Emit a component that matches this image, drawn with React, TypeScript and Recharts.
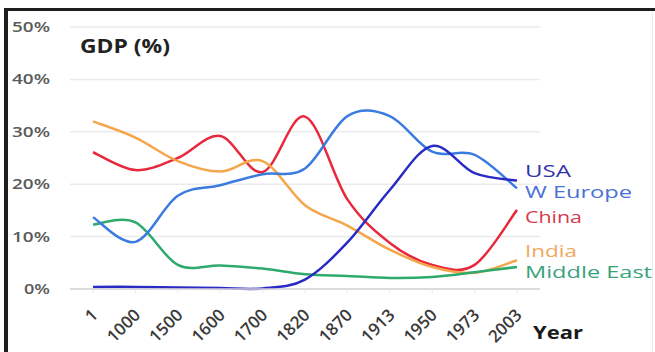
import React from 'react';
import { LineChart, Line, XAxis, YAxis, CartesianGrid, LabelList } from 'recharts';

const years = ['1', '1000', '1500', '1600', '1700', '1820', '1870', '1913', '1950', '1973', '2003'];
const usa = [0.4, 0.4, 0.3, 0.2, 0.1, 1.8, 8.9, 18.9, 27.3, 22.1, 20.7];
const wEurope = [13.7, 9.0, 17.8, 19.8, 21.9, 23.0, 33.0, 33.0, 26.2, 25.6, 19.2];
const china = [26.1, 22.7, 25.0, 29.2, 22.3, 32.9, 17.1, 8.8, 4.6, 4.6, 15.1];
const india = [32.0, 28.9, 24.4, 22.4, 24.4, 16.0, 12.1, 7.5, 4.2, 3.1, 5.5];
const middleEast = [12.3, 12.7, 4.6, 4.5, 3.9, 2.8, 2.5, 2.1, 2.3, 3.2, 4.2];
const yTicks = [0, 10, 20, 30, 40, 50];

const series = [
  { key: 'china', name: 'China', values: china, color: '#e8283c', labelColor: '#d63a4c', dy: 13, width: 57 },
  { key: 'india', name: 'India', values: india, color: '#f5a54a', labelColor: '#f0a860', dy: -3, width: 52 },
  { key: 'middleEast', name: 'Middle East', values: middleEast, color: '#2eaa6c', labelColor: '#3aa27a', dy: 11, width: 127 },
  { key: 'wEurope', name: 'W Europe', values: wEurope, color: '#3b7be0', labelColor: '#4a72d4', dy: 10, width: 107 },
  { key: 'usa', name: 'USA', values: usa, color: '#2a2ac4', labelColor: '#3434aa', dy: -4, width: 46 },
];

const data = years.map((y, i) => {
  const row: any = { year: y };
  series.forEach((s) => { row[s.key] = s.values[i]; });
  return row;
});

// Catmull-Rom style smooth curve (Excel-like smoothing)
const smoothCurve: any = (ctx: any) => {
  let pts: number[][] = [];
  return {
    areaStart() {},
    areaEnd() {},
    lineStart() { pts = []; },
    lineEnd() {
      if (!pts.length) return;
      ctx.moveTo(pts[0][0], pts[0][1]);
      for (let i = 0; i < pts.length - 1; i++) {
        const p0 = pts[i - 1] || pts[i];
        const p1 = pts[i];
        const p2 = pts[i + 1];
        const p3 = pts[i + 2] || p2;
        ctx.bezierCurveTo(
          p1[0] + (p2[0] - p0[0]) / 6, p1[1] + (p2[1] - p0[1]) / 6,
          p2[0] - (p3[0] - p1[0]) / 6, p2[1] - (p3[1] - p1[1]) / 6,
          p2[0], p2[1]
        );
      }
    },
    point(x: number, y: number) { pts.push([+x, +y]); },
  };
};

const FONT = '"Open Sans", sans-serif';

const YTick = (props: any) => {
  const { y, payload } = props;
  const label = `${payload.value}%`;
  return (
    <text x={50} y={y + 5} textAnchor="end" fontFamily={FONT} fontSize={15} fontWeight={600} fill="#5a5a5a"
      textLength={label.length === 2 ? 26 : 38} lengthAdjust="spacingAndGlyphs">
      {label}
    </text>
  );
};

const XTick = (props: any) => {
  const { x, y, payload } = props;
  const tx = x + 6;
  const ty = y + 21;
  return (
    <text x={tx} y={ty} textAnchor="end" fontFamily={FONT} fontSize={17} fontWeight={600} fill="#3a3a3a"
      transform={`rotate(-45, ${tx}, ${ty})`}>
      {payload.value}
    </text>
  );
};

const makeEndLabel = (s: any) => (props: any) => {
  const { x, y, index } = props;
  if (index !== years.length - 1) return null;
  return (
    <text x={x + 8} y={y + s.dy} fontFamily={FONT} fontSize={16} fill={s.labelColor}
      textLength={s.width} lengthAdjust="spacingAndGlyphs">
      {s.name}
    </text>
  );
};

export default function App() {
  return (
    <div style={{ position: 'absolute', left: 0, top: 0, width: 655, height: 352, background: '#fff' }}>
      <LineChart width={655} height={352} data={data} margin={{ top: 27, right: 115, left: 0, bottom: 0 }}>
        <CartesianGrid vertical={false} stroke="#ebebeb" strokeWidth={1.5} />
        <XAxis dataKey="year" height={63} padding={{ left: 23, right: 23 }} interval={0}
          axisLine={{ stroke: '#d9d2d9', strokeWidth: 1.5 }} tickLine={{ stroke: '#e6e6e6' }} tickSize={4}
          tick={<XTick />} />
        <YAxis width={70} domain={[0, 50]} ticks={yTicks} axisLine={false} tickLine={false} tick={<YTick />} />
        {series.map((s) => (
          <Line key={s.key} dataKey={s.key} type={smoothCurve} stroke={s.color} strokeWidth={2.5}
            dot={false} activeDot={false} isAnimationActive={false}>
            <LabelList dataKey={s.key} content={makeEndLabel(s)} />
          </Line>
        ))}
        <text x={80} y={53} fontFamily={FONT} fontSize={19} fontWeight={700} fill="#222"
          textLength={90} lengthAdjust="spacingAndGlyphs">GDP (%)</text>
        <text x={533} y={339} fontFamily={FONT} fontSize={18} fontWeight={700} fill="#1a1a1a"
          textLength={50} lengthAdjust="spacingAndGlyphs">Year</text>
      </LineChart>
      <div style={{ position: 'absolute', left: 4, top: 8, width: 651, height: 3, background: '#1e1e1e' }} />
      <div style={{ position: 'absolute', left: 4, top: 8, width: 4, height: 344, background: '#1e1e1e' }} />
      <div style={{ position: 'absolute', left: 652, top: 11, width: 1, height: 341, background: '#ececec' }} />
    </div>
  );
}
